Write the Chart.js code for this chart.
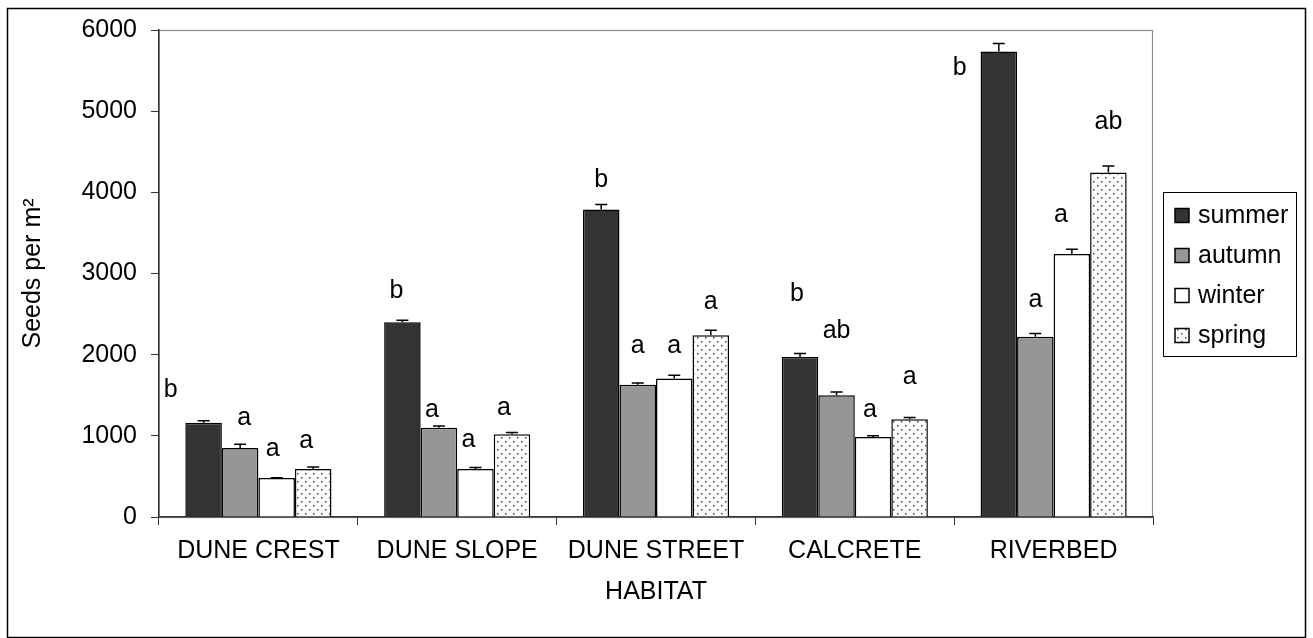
<!DOCTYPE html>
<html>
<head>
<meta charset="utf-8">
<script src="https://cdn.jsdelivr.net/npm/chart.js@4"></script>
<style>
    html, body { margin: 0; padding: 0; background: #fff; }
    #wrap { width: 1313px; height: 638px; position: relative; }
</style>
</head>
<body>
<div id="wrap"><canvas id="seedChart"></canvas></div>
<script>
// habitats and seasonal means (seeds per m2)
var habitats = ['DUNE CREST', 'DUNE SLOPE', 'DUNE STREET', 'CALCRETE', 'RIVERBED'];
var seasons = ['summer', 'autumn', 'winter', 'spring'];

var summerSeeds = [1160, 2400, 3790, 1970, 5735];
var autumnSeeds = [850, 1100, 1630, 1500, 2220];
var winterSeeds = [480, 590, 1705, 985, 3240];
var springSeeds = [590, 1020, 2240, 1205, 4245];

// standard error (upper whisker only)
var summerErr = [25, 25, 60, 45, 100];
var autumnErr = [45, 20, 20, 40, 40];
var winterErr = [5, 20, 40, 15, 60];
var springErr = [25, 20, 60, 20, 80];

// significance letters and the height (in seeds per m2) where they sit
var summerLetters = ['b', 'b', 'b', 'b', 'b'];
var autumnLetters = ['a', 'a', 'a', 'ab', 'a'];
var winterLetters = ['a', 'a', 'a', 'a', 'a'];
var springLetters = ['a', 'a', 'a', 'a', 'ab'];

var summerLetterY = [1565, 2784, 4152, 2747, 5531];
var autumnLetterY = [1220, 1318, 2107, 2291, 2673];
var winterLetterY = [838, 949, 2107, 1318, 3721];
var springLetterY = [936, 1343, 2649, 1725, 4866];

var yTicks = [0, 1000, 2000, 3000, 4000, 5000, 6000];

Chart.defaults.font.family = '"Liberation Sans", Arial, sans-serif';
Chart.defaults.color = '#000';

// dotted fill for spring
function dotPattern() {
    var c = document.createElement('canvas');
    c.width = 8;
    c.height = 8;
    var g = c.getContext('2d');
    g.fillStyle = '#fff';
    g.fillRect(0, 0, 8, 8);
    g.fillStyle = '#444';
    g.fillRect(1, 1, 1.5, 1.5);
    g.fillRect(5, 5, 1.5, 1.5);
    return document.getElementById('seedChart').getContext('2d').createPattern(c, 'repeat');
}

var seasonFill = ['#333333', '#969696', '#ffffff', dotPattern()];
var seasonValues = [summerSeeds, autumnSeeds, winterSeeds, springSeeds];
var seasonErr = [summerErr, autumnErr, winterErr, springErr];
var seasonLetters = [summerLetters, autumnLetters, winterLetters, springLetters];
var seasonLetterY = [summerLetterY, autumnLetterY, winterLetterY, springLetterY];

const dataSeeds = {
    labels: habitats,
    datasets: seasons.map((s, i) => ({
        label: s,
        data: seasonValues[i],
        backgroundColor: seasonFill[i],
        borderColor: '#000',
        borderWidth: 1.5,
        categoryPercentage: 0.735,
        barPercentage: 1.0
    }))
};

// page frame, plot box and the hand drawn legend
const framePlugin = {
    id: 'frame',
    beforeDraw: chart => {
        const ctx = chart.ctx;
        const a = chart.chartArea;
        ctx.save();
        ctx.fillStyle = '#fff';
        ctx.fillRect(0, 0, chart.width, chart.height);
        ctx.strokeStyle = '#000';
        ctx.lineWidth = 1.5;
        ctx.strokeRect(7.5, 8.5, 1298, 629);
        ctx.strokeStyle = '#8a8a8a';
        ctx.lineWidth = 1.2;
        ctx.strokeRect(a.left, a.top + 0.5, a.right - a.left - 0.5, a.bottom - a.top);
        ctx.restore();
    },
    afterDraw: chart => {
        const ctx = chart.ctx;
        ctx.save();
        ctx.strokeStyle = '#000';
        ctx.lineWidth = 1;
        ctx.strokeRect(1163.5, 192.5, 133, 164);
        ctx.font = '25px "Liberation Sans", Arial, sans-serif';
        ctx.textBaseline = 'middle';
        chart.data.datasets.forEach((ds, i) => {
            const cy = 215.5 + i * 40;
            ctx.fillStyle = ds.backgroundColor;
            ctx.fillRect(1175, cy - 7, 14, 14);
            ctx.lineWidth = 1.5;
            ctx.strokeStyle = '#000';
            ctx.strokeRect(1175, cy - 7, 14, 14);
            ctx.fillStyle = '#000';
            ctx.fillText(ds.label, 1198, cy + 1);
        });
        ctx.restore();
    }
};

// error whiskers and significance letters
const markPlugin = {
    id: 'marks',
    afterDatasetsDraw: (chart, args, opts) => {
        const ctx = chart.ctx;
        const y = chart.scales.y;
        ctx.save();
        chart.data.datasets.forEach((ds, i) => {
            const meta = chart.getDatasetMeta(i);
            meta.data.forEach((bar, j) => {
                const top = y.getPixelForValue(ds.data[j]);
                const capY = y.getPixelForValue(ds.data[j] + seasonErr[i][j]);
                ctx.strokeStyle = '#000';
                ctx.lineWidth = 1.5;
                ctx.beginPath();
                ctx.moveTo(bar.x, top);
                ctx.lineTo(bar.x, capY);
                ctx.moveTo(bar.x - 6, capY);
                ctx.lineTo(bar.x + 6, capY);
                ctx.stroke();

                ctx.fillStyle = '#000';
                ctx.font = '25px "Liberation Sans", Arial, sans-serif';
                ctx.textAlign = 'center';
                ctx.textBaseline = 'middle';
                const dx = (opts.shift[i] || [])[j] || 0;
                ctx.fillText(seasonLetters[i][j], bar.x + dx, y.getPixelForValue(seasonLetterY[i][j]));
            });
        });
        ctx.restore();
    }
};

var ctxSeeds = document.getElementById('seedChart').getContext('2d');
const seedChart = new Chart(ctxSeeds, {
    type: 'bar',
    data: dataSeeds,
    plugins: [framePlugin, markPlugin],
    options: {
        responsive: true,
        maintainAspectRatio: false,
        animation: false,
        layout: {
            padding: { left: 0, right: 160, top: 30, bottom: 0 }
        },
        plugins: {
            legend: { display: false },
            tooltip: { enabled: false },
            marks: {
                shift: [[-33, -6, 0, -3, -39], [4, -7, 0, 0, 0], [-4, -7, 0, -3, -11], [-7, -8, 0, 0, 0]]
            }
        },
        scales: {
            x: {
                offset: true,
                afterFit: s => { s.height = 121; },
                grid: {
                    display: true,
                    offset: true,
                    drawOnChartArea: false,
                    tickLength: 8,
                    color: '#333'
                },
                border: { display: true, color: '#333', width: 1.5 },
                ticks: {
                    font: { size: 25 },
                    padding: 11,
                    maxRotation: 0
                },
                title: {
                    display: true,
                    text: 'HABITAT',
                    font: { size: 25 },
                    padding: { top: 0, bottom: 31 }
                }
            },
            y: {
                min: 0,
                max: 6000,
                afterFit: s => { s.width = 159; },
                afterBuildTicks: s => { s.ticks = yTicks.map(v => ({ value: v })); },
                grid: {
                    display: true,
                    drawOnChartArea: false,
                    tickLength: 8,
                    color: '#333'
                },
                border: { display: true, color: '#333', width: 1.5 },
                ticks: {
                    font: { size: 25 },
                    padding: 14,
                    callback: v => String(v)
                },
                title: {
                    display: true,
                    text: 'Seeds per m²',
                    font: { size: 25 },
                    padding: { top: 18, bottom: 0 }
                }
            }
        }
    }
});
</script>
</body>
</html>
